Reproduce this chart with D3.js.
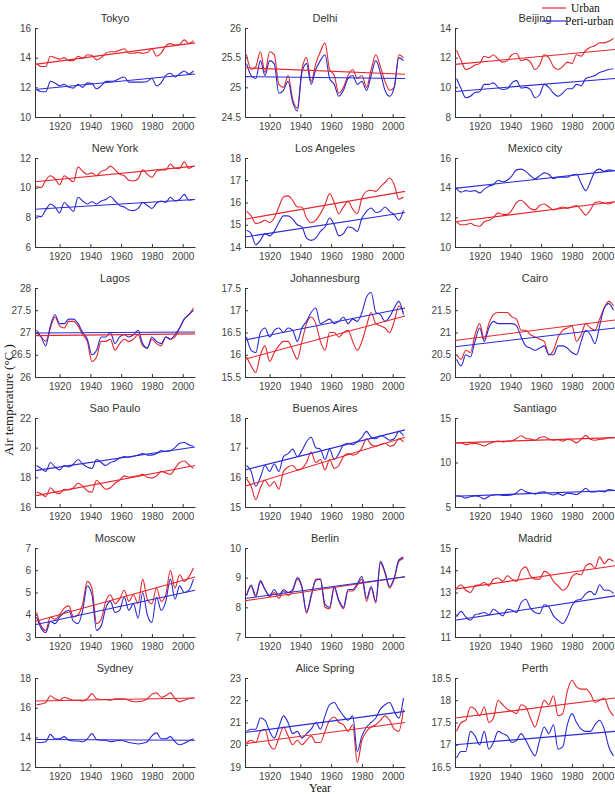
<!DOCTYPE html>
<html>
<head>
<meta charset="utf-8">
<script src="https://cdn.jsdelivr.net/npm/d3@7"></script>
<style>
  body { margin: 0; background: #fff; }
  svg { display: block; }
</style>
</head>
<body>
<svg id="chart" width="615" height="794"></svg>
<script>
// ---- data (3-year steps) ----
const years = [1905, 1908, 1911, 1914, 1917, 1920, 1923, 1926, 1929, 1932, 1935, 1938,
  1941, 1944, 1947, 1950, 1953, 1956, 1959, 1962, 1965, 1968, 1971, 1974, 1977, 1980,
  1983, 1986, 1989, 1992, 1995, 1998, 2001, 2004, 2007];

const xTicks = [1920, 1940, 1960, 1980, 2000];
const xDomain = [1904, 2008];
const trendYears = [1904, 2008];

const cities = ["Tokyo", "Delhi", "Beijing", "New York", "Los Angeles", "Mexico city",
  "Lagos", "Johannesburg", "Cairo", "Sao Paulo", "Buenos Aires", "Santiago",
  "Moscow", "Berlin", "Madrid", "Sydney", "Alice Spring", "Perth"];

const yTicks = [
  [10, 12, 14, 16], [24.5, 25, 25.5, 26], [8, 10, 12, 14],
  [6, 8, 10, 12], [14, 15, 16, 17, 18], [10, 12, 14, 16],
  [26, 26.5, 27, 27.5, 28], [15.5, 16, 16.5, 17, 17.5], [20, 20.5, 21, 21.5, 22],
  [16, 18, 20, 22], [15, 16, 17, 18], [5, 10, 15],
  [3, 4, 5, 6, 7], [7, 8, 9, 10], [11, 12, 13, 14, 15],
  [12, 14, 16, 18], [19, 20, 21, 22, 23], [16.5, 17, 17.5, 18, 18.5]
];

const urban = [
  [13.6,13.4,13.4,14.1,14.0,13.9,14.0,13.8,13.8,14.1,13.95,14.2,14.15,13.85,14.0,14.3,14.4,14.4,14.5,14.6,14.3,14.3,14.35,14.3,14.35,14.6,14.1,14.3,14.8,14.95,14.85,14.9,15.2,14.95,15.15],
  [25.55,25.3,25.35,25.6,25.25,25.6,25.55,25.05,25.0,25.2,24.8,24.65,25.3,25.5,25.1,25.4,25.6,25.75,25.3,25.2,24.9,25.0,25.2,25.3,25.15,25.2,25.0,25.3,25.55,25.35,25.1,24.95,25.0,25.55,25.5],
  [12.5,11.8,11.2,11.3,11.5,11.6,12.1,12.0,12.2,11.9,11.7,11.8,12.2,12.3,11.8,11.9,11.7,11.2,11.5,12.2,12.0,11.4,11.2,11.4,11.7,11.6,12.2,12.1,12.5,12.7,12.8,13.0,13.0,13.1,13.3],
  [10.1,10.0,10.5,10.8,10.6,10.2,10.8,10.6,10.4,11.4,11.1,10.9,11.0,10.8,11.1,11.2,11.45,11.2,10.9,10.8,10.5,10.45,10.6,11.2,10.9,10.7,11.1,11.2,11.2,11.6,11.3,11.3,11.75,11.3,11.45],
  [15.6,15.4,15.05,15.1,15.2,15.1,15.3,15.8,16.25,16.3,16.1,15.8,15.8,15.3,15.1,15.2,15.5,15.9,16.4,16.0,15.5,15.8,16.05,15.7,15.5,16.2,16.5,16.55,16.5,16.7,16.9,17.1,16.8,16.15,16.25],
  [11.7,11.5,11.5,11.6,11.45,11.4,11.7,11.8,12.0,12.3,12.2,12.2,12.5,13.0,13.15,12.9,12.6,12.5,12.8,12.9,12.7,12.5,12.6,12.7,12.6,12.7,12.8,12.5,12.15,12.5,13.0,13.05,12.95,12.9,13.05],
  [27.0,26.9,26.8,27.1,27.35,27.15,27.1,27.25,27.25,27.15,26.95,26.8,26.35,26.45,26.8,26.8,26.85,26.6,26.75,26.85,26.8,26.85,26.95,26.7,26.65,26.85,26.75,26.7,26.9,26.85,26.9,27.1,27.3,27.4,27.55],
  [15.95,15.75,15.6,16.0,16.2,15.85,16.05,16.2,16.3,16.3,16.1,15.9,16.3,16.7,16.85,16.7,16.3,16.1,16.5,16.5,16.4,16.5,16.55,16.3,16.1,16.3,16.65,16.95,16.7,16.65,16.6,16.5,16.75,17.1,16.95],
  [20.5,20.4,20.6,20.55,20.95,21.2,20.85,21.2,21.4,21.45,21.45,21.45,21.35,21.3,21.05,21.05,20.95,20.9,20.85,20.8,20.5,20.6,20.9,21.05,21.1,21.15,20.8,20.95,21.2,21.1,21.05,21.3,21.55,21.7,21.6],
  [17.0,16.9,16.7,17.3,17.0,16.9,17.2,17.15,17.3,17.6,17.4,17.1,17.0,17.8,17.5,17.2,17.3,17.6,17.8,18.1,18.0,18.05,18.1,18.2,18.0,17.95,18.1,18.4,18.3,18.2,18.6,19.0,19.1,18.85,18.6],
  [15.95,15.7,15.25,15.65,15.9,15.7,15.85,15.6,16.2,16.35,16.4,16.25,16.3,16.5,16.85,16.5,16.6,16.25,16.6,16.3,16.4,16.7,16.8,16.75,16.8,17.0,17.3,17.1,17.05,17.1,17.15,17.05,17.1,17.3,17.2],
  [12.2,12.2,12.0,12.1,12.15,12.05,11.85,12.1,12.3,12.4,12.3,12.4,12.45,12.7,13.0,12.7,12.65,12.5,12.8,12.9,12.65,12.5,12.55,12.4,12.6,12.5,12.2,12.6,13.05,12.6,12.5,12.6,12.65,12.8,12.75],
  [4.1,3.5,3.3,3.9,3.8,4.0,4.3,4.4,3.9,4.0,4.5,5.5,5.2,3.6,3.8,4.6,4.9,4.5,4.7,5.1,4.6,4.9,4.5,5.6,4.7,4.5,5.2,4.6,4.9,6.0,5.2,5.8,5.5,5.7,6.1],
  [8.4,8.7,8.35,8.85,8.6,8.35,8.5,8.3,8.55,8.4,8.55,8.95,8.65,7.8,8.35,8.95,8.95,8.0,7.95,8.65,8.2,7.95,8.55,8.55,8.75,8.95,8.2,8.65,8.15,9.5,9.15,8.65,8.95,9.55,9.65],
  [13.2,13.35,13.1,13.0,13.3,13.35,13.45,13.3,13.6,13.65,13.5,13.75,13.6,13.5,14.0,14.15,13.75,13.6,13.6,13.95,13.85,13.5,13.3,13.1,13.25,13.7,13.85,13.8,14.2,14.3,14.1,14.6,14.3,14.5,14.4],
  [16.2,16.25,16.35,16.8,16.6,16.5,16.7,16.6,16.5,16.5,16.45,16.6,16.95,16.6,16.55,16.55,16.5,16.6,16.6,16.6,16.5,16.4,16.4,16.45,16.6,16.9,17.0,16.7,16.8,17.0,16.6,16.4,16.5,16.6,16.65],
  [20.1,20.2,20.1,20.6,20.7,20.0,19.8,20.3,20.8,20.4,20.0,20.2,20.0,20.2,20.4,20.1,20.1,20.6,21.1,21.25,21.0,20.9,20.6,20.9,19.2,20.2,20.6,20.8,20.9,21.1,21.3,21.1,20.7,20.6,21.6],
  [17.3,17.5,17.55,17.85,17.8,17.65,17.85,17.5,17.6,18.0,17.9,17.8,17.75,17.7,17.9,17.85,17.6,17.4,17.7,18.0,17.9,18.1,17.65,17.7,18.2,18.45,18.3,18.25,18.25,18.15,17.95,18.0,18.05,17.8,17.65]
];

const periUrban = [
  [11.85,11.7,11.7,12.4,12.3,12.1,12.2,12.0,11.95,12.2,12.0,12.3,12.25,11.9,12.1,12.4,12.4,12.45,12.6,12.7,12.35,12.35,12.35,12.35,12.4,12.6,12.1,12.3,12.8,12.95,12.7,12.9,13.1,12.9,13.1],
  [25.4,25.2,25.15,25.45,25.2,25.45,25.4,24.9,24.95,25.1,24.75,24.6,25.25,25.4,25.05,25.3,25.45,25.55,25.15,25.05,24.85,24.95,25.15,25.2,25.05,25.1,24.95,25.2,25.45,25.25,24.95,24.85,25.0,25.5,25.45],
  [10.6,9.9,9.3,9.4,9.65,9.7,10.2,10.2,10.3,10.0,9.85,9.9,10.3,10.45,9.95,10.0,9.85,9.3,9.5,10.2,10.0,9.6,9.4,9.6,9.9,9.9,10.2,10.1,10.6,10.7,10.8,11.0,11.1,11.2,11.25],
  [8.1,8.05,8.5,8.9,8.7,8.3,9.0,8.7,8.4,9.35,9.1,8.9,9.05,8.9,9.1,9.2,9.4,9.1,8.8,8.7,8.5,8.45,8.6,9.0,8.8,8.6,8.95,9.1,9.0,9.35,9.1,9.2,9.55,9.15,9.2],
  [14.75,14.6,14.1,14.3,14.6,14.5,14.7,15.1,15.4,15.4,15.25,15.0,14.9,14.4,14.3,14.4,14.7,14.9,15.3,15.0,14.5,14.6,14.9,14.85,14.7,15.3,15.6,15.75,15.55,15.6,15.8,15.6,15.45,15.2,15.65],
  [13.9,13.7,13.8,13.75,13.8,13.65,13.9,14.1,14.2,14.5,14.4,14.5,14.8,15.2,15.25,15.1,14.8,14.6,14.8,15.0,14.9,14.6,14.7,14.7,14.7,14.85,14.9,14.3,13.8,14.4,15.1,15.25,15.1,15.2,15.15],
  [27.05,26.9,26.7,27.15,27.4,27.2,27.2,27.3,27.3,27.2,27.0,26.85,26.5,26.6,26.9,26.9,27.0,26.75,26.9,26.95,26.9,26.95,27.05,26.75,26.65,26.9,26.8,26.75,26.9,26.85,26.95,27.1,27.3,27.4,27.5],
  [16.4,16.1,16.05,16.5,16.6,16.4,16.55,16.6,16.5,16.6,16.55,16.3,16.6,16.75,16.95,17.05,16.7,16.75,16.8,16.7,16.75,16.85,16.7,16.8,16.75,16.95,17.3,17.4,16.95,16.9,16.75,16.85,17.05,17.2,16.9],
  [20.4,20.25,20.5,20.45,20.8,21.1,20.8,21.1,21.25,21.2,21.2,21.2,21.2,21.15,20.9,20.7,20.65,20.6,20.65,20.7,20.5,20.5,20.7,20.7,20.65,20.55,20.5,20.8,21.05,20.95,20.75,21.15,21.55,21.65,21.5],
  [18.8,18.6,18.4,19.0,18.7,18.5,18.8,18.7,18.9,19.2,18.9,18.7,18.6,19.2,19.0,18.8,19.0,19.1,19.3,19.4,19.35,19.4,19.5,19.6,19.5,19.5,19.6,19.8,19.75,19.8,20.0,20.3,20.35,20.2,20.1],
  [16.4,16.2,15.7,16.0,16.4,16.2,16.45,16.2,16.7,16.8,16.95,16.7,16.9,17.2,17.35,17.0,16.95,16.6,16.95,16.6,16.8,17.1,17.15,17.1,17.2,17.35,17.55,17.35,17.3,17.4,17.35,17.25,17.3,17.55,17.4],
  [6.3,6.2,6.0,6.15,6.25,6.15,5.9,6.2,6.35,6.4,6.3,6.3,6.35,6.6,7.0,6.7,6.6,6.45,6.65,6.7,6.5,6.35,6.5,6.3,6.55,6.5,6.4,6.7,7.1,6.7,6.7,6.8,6.7,6.95,6.9],
  [3.9,3.4,3.2,3.7,3.6,3.9,4.1,4.2,3.7,3.6,4.2,5.3,4.9,3.3,3.5,4.3,4.6,4.1,4.2,4.8,4.2,4.5,3.85,5.0,4.0,3.65,4.8,4.2,4.6,5.6,4.7,5.3,5.0,5.1,5.6],
  [8.4,8.75,8.4,8.9,8.6,8.4,8.6,8.4,8.6,8.5,8.6,9.0,8.7,7.85,8.4,8.9,8.95,8.1,8.0,8.7,8.25,8.0,8.6,8.6,8.8,9.05,8.3,8.7,8.2,9.55,9.2,8.7,9.0,9.6,9.7],
  [11.9,12.15,11.9,11.75,12.0,12.05,12.1,12.0,12.25,12.1,11.95,12.25,12.2,12.1,12.55,12.7,12.3,12.1,12.05,12.45,12.35,11.95,11.75,11.6,11.9,12.4,12.65,12.7,12.95,13.05,12.9,13.35,13.1,13.1,12.95],
  [13.65,13.65,13.7,14.2,13.9,13.9,14.05,13.8,13.75,13.75,13.7,13.9,14.25,13.85,13.8,13.8,13.7,13.75,13.8,13.75,13.65,13.6,13.55,13.6,13.7,14.1,14.3,13.9,13.9,14.05,13.7,13.5,13.6,13.75,13.9],
  [20.6,20.7,20.7,21.2,21.1,20.6,20.3,20.8,21.3,21.0,20.5,20.6,20.3,20.5,20.7,21.0,20.7,21.3,21.8,21.9,21.6,21.3,21.1,21.3,19.7,20.4,20.8,21.0,21.2,21.6,21.8,21.9,21.5,21.2,22.1],
  [16.7,16.85,16.85,17.3,17.2,17.0,17.3,16.9,17.05,17.3,17.25,17.2,17.05,17.1,17.25,17.1,16.9,16.75,17.1,17.4,17.25,17.45,16.9,16.95,17.45,17.7,17.5,17.35,17.3,17.3,17.45,17.55,17.35,16.95,16.75]
];

// fitted trend lines, value at the left and right axis edge
const urbanTrend = [
  [13.55, 15.0], [25.33, 25.22], [11.55, 12.55], [10.4, 11.45], [15.25, 16.5], [11.7, 13.05],
  [26.93, 26.97], [15.9, 16.87], [20.82, 21.28], [16.75, 18.8], [15.7, 17.35], [12.2, 12.8],
  [3.7, 5.7], [8.22, 9.03], [13.15, 14.2], [16.45, 16.65], [20.05, 21.0], [17.6, 18.05]
];
const periTrend = [
  [11.85, 12.9], [25.18, 25.15], [9.72, 10.6], [8.55, 9.2], [14.45, 15.55], [13.95, 15.15],
  [26.99, 27.01], [16.33, 17.05], [20.68, 21.1], [18.45, 20.05], [16.25, 17.6], [6.2, 6.85],
  [3.55, 5.1], [8.3, 9.03], [11.75, 12.85], [13.85, 13.8], [20.55, 21.5], [17.0, 17.3]
];

// ---- layout ----
const RED = "#e4262c";
const BLUE = "#2a2ad4";
const colX = [35, 245, 455];
const rowTop = 28, rowStep = 130;
const plotW = 160, plotH = 89;
const sans = "'Liberation Sans', Arial, sans-serif";
const serif = "'Liberation Serif', 'Times New Roman', serif";

const svg = d3.select("#chart");

cities.forEach((city, i) => {
  const col = i % 3;
  const row = Math.floor(i / 3);
  const ticks = yTicks[i];

  const x = d3.scaleLinear().domain(xDomain).range([0, plotW]);
  const y = d3.scaleLinear()
    .domain([ticks[0], ticks[ticks.length - 1]])
    .range([plotH, 0]);

  const g = svg.append("g")
    .attr("transform", `translate(${colX[col]},${rowTop + row * rowStep})`);

  // title
  g.append("text")
    .attr("x", plotW / 2)
    .attr("y", -6)
    .attr("text-anchor", "middle")
    .attr("font-family", sans)
    .attr("font-size", 11)
    .attr("fill", "#333")
    .text(city);

  // axes (matlab style, ticks pointing in, no box)
  const yAxis = d3.axisLeft(y)
    .tickValues(ticks)
    .tickFormat((d) => String(d))
    .tickSizeInner(-3)
    .tickSizeOuter(0)
    .tickPadding(4);

  const xAxis = d3.axisBottom(x)
    .tickValues(xTicks)
    .tickFormat(d3.format("d"))
    .tickSizeInner(-3)
    .tickSizeOuter(0)
    .tickPadding(6);

  const ya = g.append("g").call(yAxis);
  const xa = g.append("g").attr("transform", `translate(0,${plotH})`).call(xAxis);

  [ya, xa].forEach((a) => {
    a.select(".domain").attr("stroke", "#333");
    a.selectAll(".tick line").attr("stroke", "#333");
    a.selectAll(".tick text")
      .attr("font-family", sans)
      .attr("font-size", 10)
      .attr("fill", "#444");
  });

  const line = d3.line()
    .x((d, k) => x(years[k]))
    .y((d) => y(d))
    .curve(d3.curveMonotoneX);

  const trend = d3.line()
    .x((d, k) => x(trendYears[k]))
    .y((d) => y(d));

  g.append("path")
    .attr("d", line(urban[i]))
    .attr("fill", "none")
    .attr("stroke", RED)
    .attr("stroke-width", 1.1);

  g.append("path")
    .attr("d", line(periUrban[i]))
    .attr("fill", "none")
    .attr("stroke", BLUE)
    .attr("stroke-width", 1.1);

  g.append("path")
    .attr("d", trend(urbanTrend[i]))
    .attr("fill", "none")
    .attr("stroke", RED)
    .attr("stroke-width", 1.1);

  g.append("path")
    .attr("d", trend(periTrend[i]))
    .attr("fill", "none")
    .attr("stroke", BLUE)
    .attr("stroke-width", 1.1);
});

// legend (top right), kept just inside the page edge
const legendItems = [
  { label: "Urban", color: RED, y: 8, x1: 542, x2: 566, tx: 571 },
  { label: "Peri-urban", color: BLUE, y: 21, x1: 542, x2: 566, tx: 565 },
];
const legend = svg.append("g");
legendItems.forEach((d) => {
  legend.append("line")
    .attr("x1", d.x1).attr("x2", d.x2)
    .attr("y1", d.y).attr("y2", d.y)
    .attr("stroke", d.color)
    .attr("stroke-width", 1.2);
  legend.append("text")
    .attr("x", d.tx)
    .attr("y", d.y + 4)
    .attr("font-family", serif)
    .attr("font-size", 11.5)
    .attr("fill", "#111")
    .text(d.label);
});

// shared axis labels
svg.append("text")
  .attr("transform", "translate(13,400) rotate(-90)")
  .attr("text-anchor", "middle")
  .attr("font-family", serif)
  .attr("font-size", 13)
  .attr("fill", "#111")
  .text("Air temperature (°C )");

svg.append("text")
  .attr("x", 320)
  .attr("y", 792)
  .attr("text-anchor", "middle")
  .attr("font-family", serif)
  .attr("font-size", 12)
  .attr("fill", "#111")
  .text("Year");
</script>
</body>
</html>
